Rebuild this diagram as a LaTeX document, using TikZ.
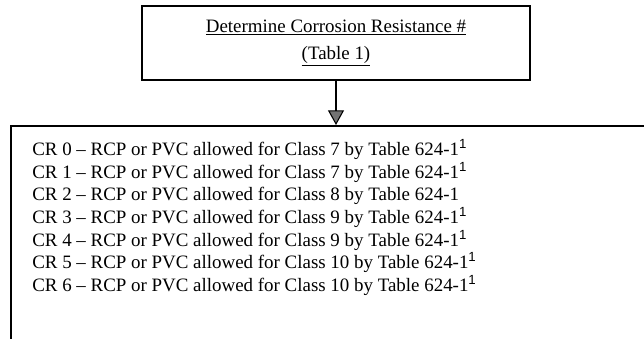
\documentclass[tikz,border=0pt]{standalone}
\usepackage{fontspec}
\setmainfont{Liberation Serif}
\setsansfont{Liberation Sans}
\usepackage{tikz}
\usetikzlibrary{positioning, arrows.meta}

\newcommand{\crfont}{\fontsize{14.2}{17}\selectfont}
\newcommand{\fnone}{\textsuperscript{\sffamily 1}}

\tikzset{
  stepbox/.style={draw, line width=1.5pt, inner sep=0pt},
  crtext/.style={inner sep=0.75pt, anchor=base west, font=\crfont},
  flowarrow/.style={line width=1.5pt, -{Triangle[width=12pt,length=11pt,fill=black!55,line width=0.8pt]}}
}

\begin{document}
\begin{tikzpicture}[x=0.75pt,y=0.75pt,yscale=-1,xscale=1]
		%set diagram from (0,0) to (644,339)
		\useasboundingbox (0,0) rectangle (644,339);

		%Shape: Rectangle [id:title]
		\node [stepbox, minimum width=291pt, minimum height=55.5pt, align=center,
		       font=\fontsize{14.2}{20}\selectfont] (title) at (336,43)
		      {\underline{Determine Corrosion Resistance \#}\\\underline{(Table 1)}};

		%Shape: Rectangle [id:crbox]
		\node [stepbox, anchor=north west, minimum width=700pt, minimum height=250pt] (crbox) at (10,125) {};

		% Text Node
		\draw (31,155) node [crtext] (cr0) {CR 0 -- RCP or PVC allowed for Class 7 by Table 624-1\fnone};
		% Text Node
		\draw (31,178) node [crtext] (cr1) {CR 1 -- RCP or PVC allowed for Class 7 by Table 624-1\fnone};
		% Text Node
		\draw (31,200) node [crtext] (cr2) {CR 2 -- RCP or PVC allowed for Class 8 by Table 624-1};
		% Text Node
		\draw (31,223) node [crtext] (cr3) {CR 3 -- RCP or PVC allowed for Class 9 by Table 624-1\fnone};
		% Text Node
		\draw (31,246) node [crtext] (cr4) {CR 4 -- RCP or PVC allowed for Class 9 by Table 624-1\fnone};
		% Text Node
		\draw (31,268) node [crtext] (cr5) {CR 5 -- RCP or PVC allowed for Class 10 by Table 624-1\fnone};
		% Text Node
		\draw (31,291) node [crtext] (cr6) {CR 6 -- RCP or PVC allowed for Class 10 by Table 624-1\fnone};

		%Straight Lines [id:arrow]
		\draw [flowarrow] (title.south) -- (title.south |- crbox.north);

	\end{tikzpicture}
\end{document}
